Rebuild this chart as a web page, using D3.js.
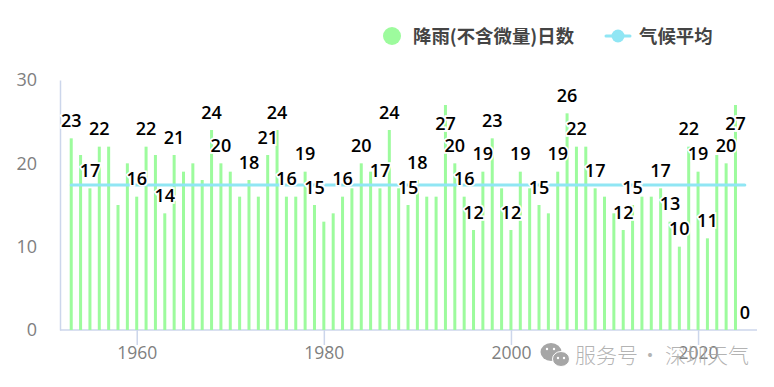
<!DOCTYPE html>
<html><head><meta charset="utf-8">
<script src="https://cdn.jsdelivr.net/npm/d3@7/dist/d3.min.js"></script>
<style>html,body{margin:0;background:#fff}svg{display:block}</style></head>
<body><svg id="c" width="774" height="387"></svg>
<script>
const years = d3.range(1953, 2026);
const rainDays = [23,21,17,22,22,15,20,16,22,21,14,21,19,20,18,24,20,19,16,18,16,21,24,16,16,19,15,13,14,16,17,20,19,17,24,17,15,18,16,16,27,20,16,12,19,23,17,12,19,17,15,14,19,26,22,22,17,16,14,12,15,16,16,17,13,10,22,19,11,21,20,27,0];
const labelledYears = [1953,1955,1956,1960,1961,1963,1964,1968,1969,1972,1974,1975,1976,1978,1979,1982,1984,1986,1987,1989,1990,1993,1994,1995,1996,1997,1998,2000,2001,2003,2005,2006,2007,2009,2012,2013,2016,2017,2018,2019,2020,2021,2023,2024,2025];
const climateMean = 17.4;
const xTicks = [1960,1980,2000,2020];
const yTicks = [0,10,20,30];
const seriesNames = ["降雨(不含微量)日数","气候平均"];
const watermarkParts = ["服务号","·","深圳天气"];

const svg = d3.select("#c");
const x = d3.scaleLinear().domain([1951.8,2026.3]).range([60,757]);
const y = d3.scaleLinear().domain([0,30]).range([330,80]);
const GREEN="#9dfb9d", CYAN="#90e6f4", AXIS="#ccd6eb", GRAY="#808080";
const FONT='"Open Sans","Noto Sans CJK SC",sans-serif';
const CJK='"Noto Sans CJK SC",sans-serif';

// axes
const ax = svg.append("g").attr("transform","translate(0,330)")
  .call(d3.axisBottom(x).tickValues(xTicks).tickFormat(d3.format("d")).tickSize(15).tickPadding(0));
ax.select(".domain").attr("stroke",AXIS).attr("stroke-width",1.5).attr("d","M60,0H757");
ax.selectAll("line").attr("stroke",AXIS).attr("stroke-width",1.5);
ax.selectAll("text").attr("fill",GRAY).attr("font-family",FONT).attr("font-size",17.5).attr("y",17).attr("dy","0.71em");
const ay = svg.append("g").attr("transform","translate(60,0)")
  .call(d3.axisLeft(y).tickValues(yTicks).tickSize(0).tickPadding(23));
ay.select(".domain").attr("stroke",AXIS).attr("stroke-width",1.5);
ay.selectAll("text").attr("fill",GRAY).attr("font-family",FONT).attr("font-size",18);

// bars
svg.append("g").selectAll("rect").data(years).join("rect")
  .attr("x",d=>x(d)-1.5).attr("width",3)
  .attr("y",(d,i)=>y(rainDays[i])).attr("height",(d,i)=>y(0)-y(rainDays[i]))
  .attr("fill",GREEN);

// mean line
svg.append("path").datum([years[0],years[years.length-1]])
  .attr("d",d3.line().x(d=>x(d)).y(()=>y(climateMean)))
  .attr("stroke",CYAN).attr("stroke-width",3).attr("stroke-linecap","round").attr("fill","none");

// labels with halo (the tallest bars carry theirs below the bar top)
const valueOf = d => rainDays[years.indexOf(d)];
svg.append("g").selectAll("text").data(labelledYears).join("text")
  .attr("x",d=>x(d)).attr("y",d=>y(valueOf(d)) + (valueOf(d)>=27 ? 24.5 : -11.5))
  .attr("text-anchor","middle").attr("font-family",FONT).attr("font-size",18).attr("font-weight",600)
  .attr("fill","#000").attr("stroke","#fff").attr("stroke-width",3.5).attr("paint-order","stroke")
  .text(valueOf);

// legend
const lg = svg.append("g").attr("font-family",CJK).attr("font-size",18.4).attr("font-weight",700).attr("fill","#444");
lg.append("circle").attr("cx",392).attr("cy",36).attr("r",9).attr("fill",GREEN);
lg.append("text").attr("x",413).attr("y",42.5).text(seriesNames[0]);
lg.append("line").attr("x1",606).attr("x2",630).attr("y1",36).attr("y2",36).attr("stroke",CYAN).attr("stroke-width",3).attr("stroke-linecap","round");
lg.append("circle").attr("cx",618).attr("cy",36).attr("r",6.5).attr("fill",CYAN);
lg.append("text").attr("x",639).attr("y",42.5).text(seriesNames[1]);

// watermark
const wm = svg.append("g").attr("fill","#a6a6a6");
wm.append("ellipse").attr("cx",551).attr("cy",352).attr("rx",10.5).attr("ry",9);
wm.append("ellipse").attr("cx",561).attr("cy",359).attr("rx",8.5).attr("ry",7.5).attr("stroke","#fff");
[[547,349],[554,349],[558,358],[564,358]].forEach(p=>wm.append("circle").attr("cx",p[0]).attr("cy",p[1]).attr("r",1.2).attr("fill","#fff"));
const wt = wm.append("g").attr("font-family",CJK).attr("font-size",21).attr("font-weight",300).attr("fill-opacity",.85);
wt.append("text").attr("x",575).attr("y",363).text(watermarkParts[0]);
wt.append("text").attr("x",650).attr("y",363).attr("text-anchor","middle").text(watermarkParts[1]);
wt.append("text").attr("x",665).attr("y",363).text(watermarkParts[2]);
</script></body></html>
